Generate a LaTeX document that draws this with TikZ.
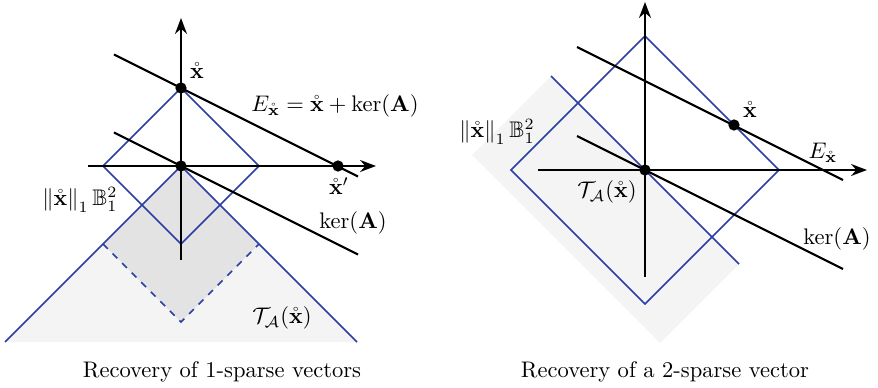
\documentclass[tikz,border=0pt]{standalone}
\definecolor{ballblue}{RGB}{42, 62, 165}
\definecolor{conegray}{RGB}{244, 244, 244}
\definecolor{darkgray}{RGB}{227, 227, 227}
\usepackage{amsmath, amssymb, amsfonts}
\usepackage{tikz}
\usetikzlibrary{arrows.meta, positioning}

\begin{document}
\begin{tikzpicture}[x=0.0156cm, y=0.0156cm, >=Stealth,
    axis/.style={->, line width=0.9pt},
    kline/.style={line width=0.9pt},
    bline/.style={ballblue, line width=0.65pt},
    dot/.style={circle, fill=black, inner sep=0pt, minimum size=5pt}]
  \useasboundingbox (0,0) rectangle (878,388);

  % left: 1-sparse
  \begin{scope}[shift={(181,222)}]
    \fill[conegray] (0,0) -- (-176,-176) -- (176,-176) -- cycle;
    \fill[darkgray] (0,0) -- (78,-78) -- (0,-156) -- (-78,-78) -- cycle;
    \draw[bline, dashed] (-78,-78) -- (0,-156) -- (78,-78);
    \draw[bline] (-176,-176) -- (0,0) -- (176,-176);
    \draw[bline] (0,78) -- (78,0) -- (0,-78) -- (-78,0) -- cycle;

    \coordinate (xl) at (-93,0);
    \coordinate (xr) at (195,0);
    \coordinate (yb) at (0,-94);
    \coordinate (yt) at (0,148);
    \draw[axis] (xl) -- (xr);
    \draw[axis] (yb) -- (yt);

    \coordinate (ea) at (-67,111.5);
    \coordinate (eb) at (177,-10.5);
    \coordinate (ka) at (-67,33.5);
    \coordinate (kb) at (177,-88.5);
    \draw[kline] (ea) -- (eb);
    \draw[kline] (ka) -- (kb);

    \node (xo) [dot] at (0,78) {};
    \node (orig) [dot] at (0,0) {};
    \node (xp) [dot] at (157,0) {};

    \node (xolab) at (16,95) {$\mathring{\mathbf{x}}$};
    \node (elab) at (154,60) {$E_{\mathring{\mathbf{x}}} = \mathring{\mathbf{x}} + \ker(\mathbf{A})$};
    \node (xplab) at (158,-20) {$\mathring{\mathbf{x}}'$};
    \node (klab) at (172,-57) {$\ker(\mathbf{A})$};
    \node (blab) at (-101,-34) {$\left\|\mathring{\mathbf{x}}\right\|_1 \mathbb{B}_1^2$};
    \node (tlab) at (101,-152) {$\mathcal{T}_{\mathcal{A}}(\mathring{\mathbf{x}})$};
    \node (cap1) at (41,-206) {Recovery of 1-sparse vectors};
  \end{scope}

  % right: 2-sparse
  \begin{scope}[shift={(645,218)}]
    \fill[conegray] (-94,94) -- (94,-94) -- (15,-173) -- (-173,15) -- cycle;
    \draw[bline] (0,134) -- (134,0) -- (0,-134) -- (-134,0) -- cycle;
    \draw[bline] (-94,94) -- (94,-94);

    \coordinate (xl2) at (-107,0);
    \coordinate (xr2) at (222,0);
    \coordinate (yb2) at (0,-107);
    \coordinate (yt2) at (0,168);
    \draw[axis] (xl2) -- (xr2);
    \draw[axis] (yb2) -- (yt2);

    \coordinate (ea2) at (-68,123);
    \coordinate (eb2) at (198,-10);
    \coordinate (ka2) at (-68,34);
    \coordinate (kb2) at (198,-99);
    \draw[kline] (ea2) -- (eb2);
    \draw[kline] (ka2) -- (kb2);

    \node (orig2) [dot] at (0,0) {};
    \node (xo2) [dot] at (89,45) {};

    \node (xolab2) at (105,60) {$\mathring{\mathbf{x}}$};
    \node (elab2) at (178,17) {$E_{\mathring{\mathbf{x}}}$};
    \node (klab2) at (192,-69) {$\ker(\mathbf{A})$};
    \node (blab2) at (-148,38) {$\left\|\mathring{\mathbf{x}}\right\|_1 \mathbb{B}_1^2$};
    \node (tlab2) at (-38,-22) {$\mathcal{T}_{\mathcal{A}}(\mathring{\mathbf{x}})$};
    \node (cap2) at (20,-202) {Recovery of a 2-sparse vector};
  \end{scope}
\end{tikzpicture}
\end{document}
